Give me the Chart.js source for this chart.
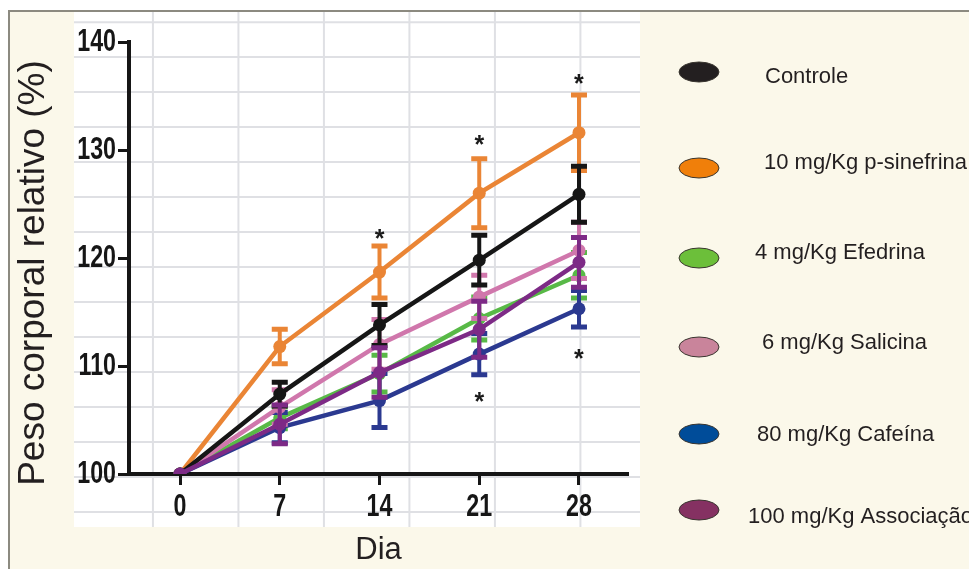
<!DOCTYPE html>
<html lang="pt">
<head>
<meta charset="UTF-8">
<title>Peso corporal relativo</title>
<style>
  html, body { margin: 0; padding: 0; background: #ffffff; }
  #wrap { width: 969px; height: 569px; position: relative; }
</style>
</head>
<body>
<div id="wrap"><canvas id="myChart"></canvas></div>

<script src="https://cdn.jsdelivr.net/npm/chart.js"></script>
<script>
// dados (media e erro padrao, % do peso inicial)
const days = [0, 7, 14, 21, 28];
const yTicks = [100, 110, 120, 130, 140];

const labels = ['Controle', '10 mg/Kg p-sinefrina', '4 mg/Kg Efedrina',
                '6 mg/Kg Salicina', '80 mg/Kg Cafeína', '100 mg/Kg Associação'];

const controle     = [100, 107.4, 113.8, 119.8, 125.9];
const controleSem  = [0, 1.1, 1.9, 2.3, 2.6];
const sinefrina    = [100, 111.8, 118.7, 126.0, 131.6];
const sinefrinaSem = [0, 1.6, 2.4, 3.2, 3.5];
const efedrina     = [100, 105.2, 109.3, 114.4, 118.4];
const efedrinaSem  = [0, 1.0, 1.7, 2.0, 2.1];
const salicina     = [100, 106.2, 112.0, 116.4, 120.7];
const salicinaSem  = [0, 1.6, 2.3, 2.0, 2.6];
const cafeina      = [100, 104.3, 106.8, 111.1, 115.3];
const cafeinaSem   = [0, 1.4, 2.5, 1.9, 1.7];
const associacao   = [100, 104.6, 109.4, 113.4, 119.6];
const associacaoSem = [0, 1.8, 2.3, 2.6, 2.3];

// asteriscos de significancia
const starDays   = [14, 21, 28, 21, 28];
const starValues = [122.4, 131.1, 136.8, 107.3, 111.3];

const lineColors   = ['#161616', '#ea8535', '#58b947', '#d077ac', '#2b3990', '#7d2a86'];
const legendColors = ['#231f20', '#f07f0a', '#6cbf3a', '#c9849b', '#004c99', '#853162'];

let v_means = [controle, sinefrina, efedrina, salicina, cafeina, associacao];
let v_sems = [controleSem, sinefrinaSem, efedrinaSem, salicinaSem, cafeinaSem, associacaoSem];
let v_order = [1, 5, 4, 2, 3, 0];

let v_datasets = [];
for (let i = 0; i < labels.length; i++) {
    v_datasets.push({
        label: labels[i],
        data: days.map((d, k) => ({ x: d, y: v_means[i][k] })),
        sem: v_sems[i],
        borderColor: lineColors[i],
        backgroundColor: lineColors[i],
        pointBackgroundColor: lineColors[i],
        borderWidth: 4.5,
        pointRadius: 6.5,
        pointHoverRadius: 6.5,
        pointBorderWidth: 0,
        order: v_order[i]
    });
}

const fundo = {
    id: 'fundo',
    beforeDraw(chart) {
        const ctx = chart.ctx;
        const sx = chart.scales.x, sy = chart.scales.y;
        ctx.save();
        ctx.fillStyle = '#ffffff';
        ctx.fillRect(0, 0, chart.width, chart.height);
        ctx.fillStyle = '#fbf8ea';
        ctx.fillRect(9, 11, chart.width - 9, chart.height - 11);
        ctx.strokeStyle = '#8c8a80';
        ctx.lineWidth = 2;
        ctx.beginPath();
        ctx.moveTo(9, chart.height);
        ctx.lineTo(9, 11);
        ctx.lineTo(chart.width, 11);
        ctx.stroke();

        // painel branco com grade
        const pl = 74, pr = 640, pt = 12, pb = 527;
        ctx.fillStyle = '#ffffff';
        ctx.fillRect(pl, pt, pr - pl, pb - pt);
        ctx.strokeStyle = '#dfe0e4';
        ctx.lineWidth = 2;
        for (let k = -2; k < 8; k++) {
            const px = sx.getPixelForValue(-1.9 + k * 6);
            if (px < pl || px > pr) continue;
            ctx.beginPath(); ctx.moveTo(px, pt); ctx.lineTo(px, pb); ctx.stroke();
        }
        for (let k = -3; k < 16; k++) {
            const py = sy.getPixelForValue(99.72 + k * 3.24);
            if (py < pt || py > pb) continue;
            ctx.beginPath(); ctx.moveTo(pl, py); ctx.lineTo(pr, py); ctx.stroke();
        }
        ctx.restore();
    },
    afterDatasetDraw(chart, args) {
        // barras de erro
        const ctx = chart.ctx;
        const sy = chart.scales.y;
        const ds = chart.data.datasets[args.index];
        ctx.save();
        ctx.strokeStyle = ds.borderColor;
        ctx.lineCap = 'butt';
        args.meta.data.forEach((pt, k) => {
            const e = ds.sem[k];
            if (!e) return;
            const m = ds.data[k].y;
            const y1 = sy.getPixelForValue(m + e), y2 = sy.getPixelForValue(m - e);
            ctx.lineWidth = 4;
            ctx.beginPath();
            ctx.moveTo(pt.x, y1); ctx.lineTo(pt.x, y2);
            ctx.stroke();
            ctx.lineWidth = 5;
            ctx.beginPath();
            ctx.moveTo(pt.x - 8, y1); ctx.lineTo(pt.x + 8, y1);
            ctx.moveTo(pt.x - 8, y2); ctx.lineTo(pt.x + 8, y2);
            ctx.stroke();
        });
        ctx.restore();
    },
    afterDraw(chart) {
        const ctx = chart.ctx;
        const sx = chart.scales.x, sy = chart.scales.y;
        ctx.save();

        // rotulos dos eixos (fonte estreita)
        ctx.fillStyle = '#161616';
        ctx.font = 'bold 31px "Liberation Sans", Arial, sans-serif';
        ctx.textBaseline = 'middle';
        sy.ticks.forEach(t => {
            ctx.save();
            ctx.translate(sy.left + sy.width - 13, sy.getPixelForValue(t.value));
            ctx.scale(0.75, 1);
            ctx.textAlign = 'right';
            ctx.fillText(String(t.value), 0, 0);
            ctx.restore();
        });
        sx.ticks.forEach(t => {
            ctx.save();
            ctx.translate(sx.getPixelForValue(t.value), sx.top + 33);
            ctx.scale(0.75, 1);
            ctx.textAlign = 'center';
            ctx.fillText(String(t.value), 0, 0);
            ctx.restore();
        });

        // asteriscos
        ctx.fillStyle = '#1a1a1a';
        ctx.font = 'bold 25px "Liberation Sans", Arial, sans-serif';
        ctx.textAlign = 'center';
        ctx.textBaseline = 'alphabetic';
        for (let i = 0; i < starDays.length; i++) {
            ctx.fillText('*', sx.getPixelForValue(starDays[i]), sy.getPixelForValue(starValues[i]) + 15);
        }

        // titulo do eixo y
        ctx.save();
        ctx.translate(34, 273);
        ctx.rotate(-Math.PI / 2);
        ctx.font = '37px "Liberation Sans", Arial, sans-serif';
        ctx.fillStyle = '#231f20';
        ctx.textAlign = 'center';
        ctx.textBaseline = 'middle';
        ctx.fillText('Peso corporal relativo (%)', 0, 0);
        ctx.restore();

        // legenda
        const ey = [72, 168, 258, 347, 434, 510];
        const ty = [77, 163, 253, 343, 435, 517];
        const tx = [765, 764, 755, 762, 757, 748];
        ctx.textAlign = 'left';
        ctx.textBaseline = 'middle';
        ctx.font = '22px "Liberation Sans", Arial, sans-serif';
        for (let i = 0; i < labels.length; i++) {
            ctx.beginPath();
            ctx.ellipse(699, ey[i], 20, 10, 0, 0, Math.PI * 2);
            ctx.fillStyle = legendColors[i];
            ctx.fill();
            ctx.lineWidth = 1;
            ctx.strokeStyle = '#3a3630';
            ctx.stroke();
            ctx.fillStyle = '#231f20';
            ctx.fillText(labels[i], tx[i], ty[i]);
        }
        ctx.restore();
    }
};

const ctx = document.querySelector('#myChart');
new Chart(ctx, {
    type: 'line',
    data: { datasets: v_datasets },
    options: {
        responsive: true,
        maintainAspectRatio: false,
        animation: false,
        layout: { padding: { top: 42, right: 341, bottom: 0, left: 0 } },
        plugins: {
            legend: { display: false },
            tooltip: { enabled: false }
        },
        scales: {
            x: {
                type: 'linear',
                min: -3.58,
                max: 31.44,
                afterBuildTicks: (s) => { s.ticks = days.map(v => ({ value: v })); },
                afterFit: (s) => { s.height = 95; },
                border: { display: true, color: '#161616', width: 4 },
                grid: { drawOnChartArea: false, drawTicks: true, tickLength: 11, tickColor: '#161616', tickWidth: 3 },
                ticks: { display: false },
                title: {
                    display: true,
                    text: 'Dia',
                    color: '#231f20',
                    font: { family: '"Liberation Sans", Arial, sans-serif', size: 31 },
                    padding: { top: 0, bottom: 0 }
                }
            },
            y: {
                type: 'linear',
                min: 100,
                max: 140,
                afterBuildTicks: (s) => { s.ticks = yTicks.map(v => ({ value: v })); },
                afterFit: (s) => { s.width = 129; },
                border: { display: true, color: '#161616', width: 4 },
                grid: { drawOnChartArea: false, drawTicks: true, tickLength: 11, tickColor: '#161616', tickWidth: 3 },
                ticks: { display: false }
            }
        }
    },
    plugins: [fundo]
});
</script>
</body>
</html>
